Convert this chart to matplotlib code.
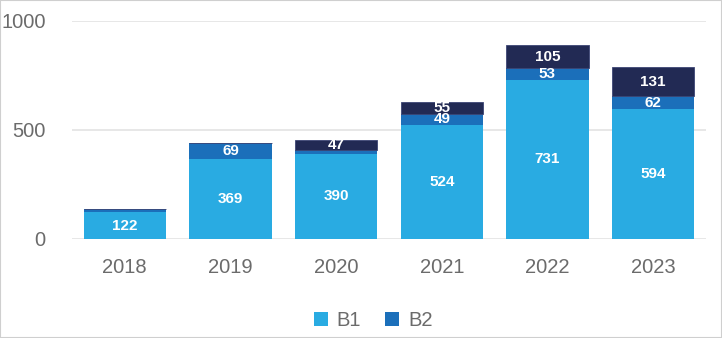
import numpy as np
import matplotlib.pyplot as plt

plt.rcParams['font.family'] = ['Liberation Sans', 'DejaVu Sans']

years = ['2018', '2019', '2020', '2021', '2022', '2023']
b1 = [122, 369, 390, 524, 731, 594]
b2 = [15, 69, 18, 49, 53, 62]
other = [0, 0, 47, 55, 105, 131]

# which segments carry a value label
b2_labeled = [False, True, False, True, True, True]
other_labeled = [False, False, True, True, True, True]

c_b1 = '#29abe2'
c_b2 = '#1b6fba'
c_other = '#222a54'

fig = plt.figure(figsize=(7.22, 3.38), dpi=100)
ax = fig.add_axes([0.0997, 0.293, 0.878, 0.645])

x = np.arange(len(years))
w = 0.78
b1 = np.array(b1)
b2 = np.array(b2)
other = np.array(other)

ax.bar(x, b1, w, color=c_b1, label='B1', zorder=3)
ax.bar(x, b2, w, bottom=b1, color=c_b2, label='B2', zorder=3)
ax.bar(x, other, w, bottom=b1 + b2, color=c_other, edgecolor='#3d4675',
       linewidth=0.6, zorder=3)

lbl = dict(ha='center', va='center', color='white', fontsize=11, fontweight='bold', zorder=4)
for i in range(len(years)):
    ax.text(x[i], b1[i] / 2, str(b1[i]), **lbl)
    if b2_labeled[i]:
        ax.text(x[i], b1[i] + b2[i] / 2, str(b2[i]), **lbl)
    if other_labeled[i]:
        ax.text(x[i], b1[i] + b2[i] + other[i] / 2, str(other[i]), **lbl)

ax.set_xlim(-0.5, len(years) - 0.5)
ax.set_ylim(0, 1000)
ax.set_yticks([0, 500, 1000])
ax.set_xticks(x)
ax.set_xticklabels(years)
ax.tick_params(axis='both', length=0, labelsize=14.5, colors='#6b6b6b')
ax.tick_params(axis='x', pad=14)
ax.tick_params(axis='y', pad=19)
ax.grid(axis='y', color='#e3e3e3', lw=1.2, zorder=0)
for s in ax.spines.values():
    s.set_visible(False)

leg = fig.legend(loc='center', bbox_to_anchor=(0.517, 0.052), ncol=2, frameon=False,
                 fontsize=14.5, handlelength=0.7, handleheight=0.7, columnspacing=1.2,
                 handletextpad=0.45)
for t in leg.get_texts():
    t.set_color('#6b6b6b')

fig.patches.append(plt.Rectangle((0, 0), 1, 1, transform=fig.transFigure,
                                 fill=False, edgecolor='#cfcfcf', lw=1.5))

fig.savefig('out.png', dpi=100)
